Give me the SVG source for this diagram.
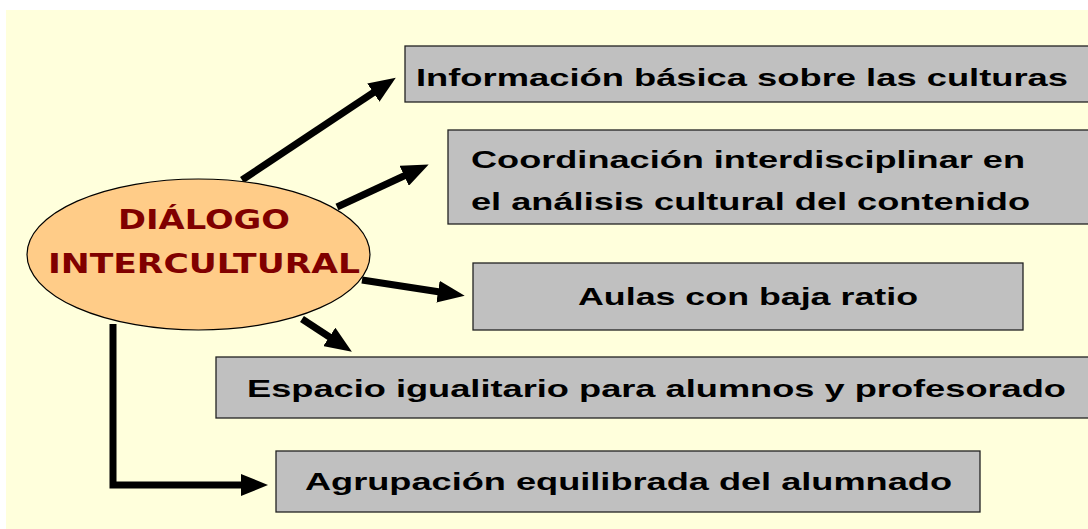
<svg xmlns="http://www.w3.org/2000/svg" width="1088" height="529" viewBox="0 0 1088 529">
<style>
.box{fill:#C0C0C0;stroke:#222;stroke-width:1.3}
.t{font-family:"Liberation Sans",Arial,sans-serif;font-weight:bold;font-size:24px;fill:#000}
.ct{font-family:"DejaVu Sans",sans-serif;font-weight:bold;font-size:26px;fill:#800000}
.c{stroke:#000;stroke-width:7;fill:none}
</style>
<defs>
<marker id="ah" markerUnits="userSpaceOnUse" markerWidth="28" markerHeight="22" refX="2" refY="11" orient="auto">
<path d="M0,0 L27,11 L0,22 Z" fill="#000"/>
</marker>
</defs>
<rect x="0" y="0" width="1088" height="529" fill="#fff"/>
<rect x="6" y="10" width="1082" height="519" fill="#FFFFDC"/>
<g id="connectors">
<line class="c" x1="242" y1="180" x2="375" y2="91.5" marker-end="url(#ah)"/>
<line class="c" x1="337" y1="207" x2="406" y2="175" marker-end="url(#ah)"/>
<line class="c" x1="362" y1="280" x2="440" y2="292" marker-end="url(#ah)"/>
<line class="c" x1="302" y1="319" x2="331" y2="338" marker-end="url(#ah)"/>
<polyline class="c" points="113,324 113,485 243,485" marker-end="url(#ah)"/>
</g>
<g id="center">
<ellipse cx="198.5" cy="254.5" rx="171.5" ry="75.5" fill="#FFCC88" stroke="#000" stroke-width="1.2"/>
<text class="ct" x="118" y="229" textLength="172" lengthAdjust="spacingAndGlyphs">DIÁLOGO</text>
<text class="ct" x="48" y="273" textLength="312" lengthAdjust="spacingAndGlyphs">INTERCULTURAL</text>
</g>
<g id="n1">
<rect class="box" x="405" y="46" width="690" height="56"/>
<text class="t" x="416" y="86" textLength="652" lengthAdjust="spacingAndGlyphs">Información básica sobre las culturas</text>
</g>
<g id="n2">
<rect class="box" x="448" y="130" width="650" height="94"/>
<text class="t" x="471" y="168" textLength="554" lengthAdjust="spacingAndGlyphs">Coordinación interdisciplinar en</text>
<text class="t" x="471" y="210" textLength="559" lengthAdjust="spacingAndGlyphs">el análisis cultural del contenido</text>
</g>
<g id="n3">
<rect class="box" x="473" y="263" width="550" height="67"/>
<text class="t" x="578" y="305" textLength="340" lengthAdjust="spacingAndGlyphs">Aulas con baja ratio</text>
</g>
<g id="n4">
<rect class="box" x="216" y="357" width="880" height="61"/>
<text class="t" x="247" y="397" textLength="819" lengthAdjust="spacingAndGlyphs">Espacio igualitario para alumnos y profesorado</text>
</g>
<g id="n5">
<rect class="box" x="276" y="451" width="704" height="61"/>
<text class="t" x="305" y="490" textLength="647" lengthAdjust="spacingAndGlyphs">Agrupación equilibrada del alumnado</text>
</g>
</svg>
